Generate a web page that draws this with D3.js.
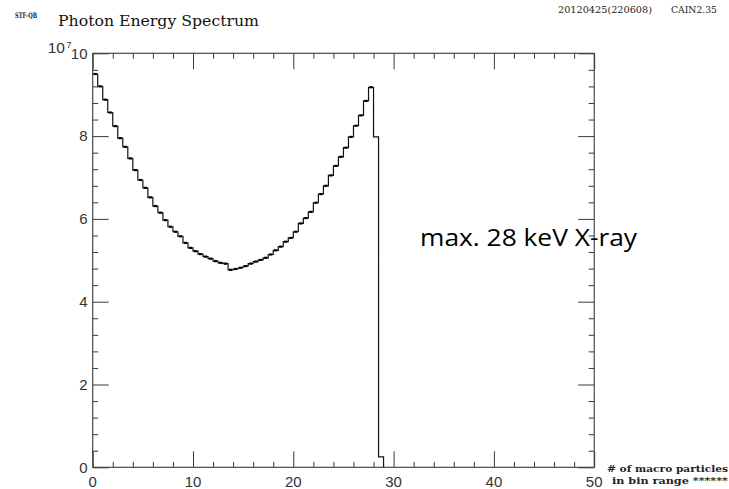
<!DOCTYPE html>
<html>
<head>
<meta charset="utf-8">
<script src="https://cdn.jsdelivr.net/npm/d3@7"></script>
<style>
  html, body { margin: 0; padding: 0; background: #fff; }
  svg { display: block; }
</style>
</head>
<body>
<svg id="chart" width="729" height="489"></svg>
<script>
// Photon energy spectrum: counts per 0.5 keV bin, in units of 10^7
const binWidth = 0.5;
const counts = [
  9.50, 9.20, 8.88, 8.57, 8.24, 7.95, 7.74, 7.46, 7.18, 6.94,
  6.75, 6.52, 6.31, 6.15, 5.97, 5.81, 5.69, 5.58, 5.42, 5.30,
  5.22, 5.15, 5.09, 5.04, 4.98, 4.94, 4.92, 4.77, 4.79, 4.82,
  4.86, 4.92, 4.97, 5.01, 5.06, 5.14, 5.24, 5.33, 5.45, 5.54,
  5.69, 5.89, 6.02, 6.17, 6.39, 6.60, 6.80, 7.05, 7.28, 7.50,
  7.72, 7.98, 8.25, 8.50, 8.85, 9.18, 7.98, 0.25
];
const xMajorTicks = [0, 10, 20, 30, 40, 50];
const xMinorTicks = [2, 4, 6, 8, 12, 14, 16, 18, 22, 24, 26, 28, 32, 34, 36, 38, 42, 44, 46, 48];
const yMajorTicks = [0, 2, 4, 6, 8, 10];
const yMinorTicks = [0.4, 0.8, 1.2, 1.6, 2.4, 2.8, 3.2, 3.6, 4.4, 4.8, 5.2, 5.6, 6.4, 6.8, 7.2, 7.6, 8.4, 8.8, 9.2, 9.6];

const svg = d3.select("#chart");
const plotLeft = 92.7, plotRight = 594.2, plotTop = 53.3, plotBottom = 467.3;
const x = d3.scaleLinear().domain([0, 50]).range([plotLeft, plotRight]);
const y = d3.scaleLinear().domain([0, 10]).range([plotBottom, plotTop]);

const frameColor = "#3a3a3a";
const labelFont = "'Liberation Sans', Arial, sans-serif";
const serif = "'DejaVu Serif', 'Liberation Serif', serif";

// Header texts
svg.append("text").attr("x", 15).attr("y", 18)
  .attr("font-family", serif).attr("font-size", 7.5).attr("font-weight", "bold")
  .attr("textLength", 22).attr("lengthAdjust", "spacingAndGlyphs")
  .attr("fill", "#222").text("STF-QB");
svg.append("text").attr("x", 58).attr("y", 26)
  .attr("font-family", serif).attr("font-size", 15.6)
  .attr("textLength", 201).attr("lengthAdjust", "spacingAndGlyphs")
  .attr("fill", "#111").text("Photon Energy Spectrum");
svg.append("text").attr("x", 558).attr("y", 13)
  .attr("font-family", serif).attr("font-size", 8.6)
  .attr("textLength", 94).attr("lengthAdjust", "spacingAndGlyphs")
  .attr("fill", "#222").text("20120425(220608)");
svg.append("text").attr("x", 671).attr("y", 13)
  .attr("font-family", serif).attr("font-size", 8.6)
  .attr("textLength", 46).attr("lengthAdjust", "spacingAndGlyphs")
  .attr("fill", "#222").text("CAIN2.35");

// Axes: ticks drawn inward on all four sides
function tickAxis(axisFn, scale, values, size, transform) {
  const g = svg.append("g").attr("transform", transform)
    .call(axisFn(scale).tickValues(values).tickSize(size).tickFormat(""));
  g.select(".domain").remove();
  g.selectAll(".tick line").attr("stroke", frameColor).attr("stroke-width", 1);
  return g;
}
tickAxis(d3.axisBottom, x, xMajorTicks, -16, `translate(0,${plotBottom})`);
tickAxis(d3.axisBottom, x, xMinorTicks, -5.5, `translate(0,${plotBottom})`);
tickAxis(d3.axisTop, x, xMajorTicks, -16, `translate(0,${plotTop})`);
tickAxis(d3.axisTop, x, xMinorTicks, -5.5, `translate(0,${plotTop})`);
tickAxis(d3.axisLeft, y, yMajorTicks, -16, `translate(${plotLeft},0)`);
tickAxis(d3.axisLeft, y, yMinorTicks, -5.5, `translate(${plotLeft},0)`);
tickAxis(d3.axisRight, y, yMajorTicks, -16, `translate(${plotRight},0)`);
tickAxis(d3.axisRight, y, yMinorTicks, -5.5, `translate(${plotRight},0)`);

// Frame
svg.append("rect")
  .attr("x", plotLeft).attr("y", plotTop)
  .attr("width", plotRight - plotLeft).attr("height", plotBottom - plotTop)
  .attr("fill", "none").attr("stroke", frameColor).attr("stroke-width", 1.1);

// Tick labels
svg.append("g").selectAll("text").data(xMajorTicks).join("text")
  .attr("x", d => x(d)).attr("y", 487)
  .attr("text-anchor", "middle")
  .attr("font-family", labelFont).attr("font-size", 15)
  .attr("fill", "#333").text(d => d);
svg.append("g").selectAll("text").data(yMajorTicks).join("text")
  .attr("x", 87.5).attr("y", d => y(d) + 5.3)
  .attr("text-anchor", "end")
  .attr("font-family", labelFont).attr("font-size", 15)
  .attr("fill", "#333").text(d => d);

// Scale factor 10^7 above the y axis
svg.append("text").attr("x", 65).attr("y", 53)
  .attr("text-anchor", "end")
  .attr("font-family", labelFont).attr("font-size", 15.5)
  .attr("fill", "#333").text("10");
svg.append("text").attr("x", 66.5).attr("y", 47.5)
  .attr("font-family", labelFont).attr("font-size", 9)
  .attr("fill", "#333").text("7");

// Footnote at the lower right
svg.append("text").attr("x", 607).attr("y", 472)
  .attr("font-family", serif).attr("font-size", 9.5).attr("font-weight", "bold")
  .attr("textLength", 121).attr("lengthAdjust", "spacingAndGlyphs")
  .attr("fill", "#222").text("# of macro particles");
svg.append("text").attr("x", 612).attr("y", 484)
  .attr("font-family", serif).attr("font-size", 9.5).attr("font-weight", "bold")
  .attr("textLength", 116).attr("lengthAdjust", "spacingAndGlyphs")
  .attr("fill", "#222").text("in bin range ******");

// Histogram as a step line
const pts = counts.map((v, i) => [i * binWidth, v]);
pts.push([counts.length * binWidth, 0]);
const stepLine = d3.line()
  .x(d => x(d[0])).y(d => y(d[1]))
  .curve(d3.curveStepAfter);
svg.append("path").datum(pts)
  .attr("d", stepLine)
  .attr("fill", "none").attr("stroke", "#111").attr("stroke-width", 1.2);

// Small markers at bin centres
svg.append("g").selectAll("line").data(counts.slice(0, 56)).join("line")
  .attr("x1", (d, i) => x((i + 0.5) * binWidth) - 1.6)
  .attr("x2", (d, i) => x((i + 0.5) * binWidth) + 1.6)
  .attr("y1", d => y(d)).attr("y2", d => y(d))
  .attr("stroke", "#000").attr("stroke-width", 2.2);

// Annotation
svg.append("text").attr("x", 420).attr("y", 246)
  .attr("font-family", "'Open Sans', 'Liberation Sans', sans-serif")
  .attr("font-size", 24).attr("fill", "#000")
  .attr("textLength", 217).attr("lengthAdjust", "spacingAndGlyphs")
  .text("max. 28 keV X-ray");
</script>
</body>
</html>
